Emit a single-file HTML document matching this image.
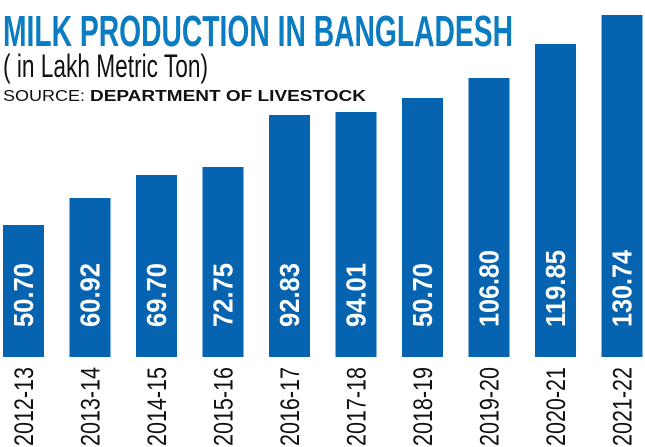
<!DOCTYPE html>
<html><head><meta charset="utf-8"><style>
html,body{margin:0;padding:0;background:#fff;width:645px;height:447px;overflow:hidden}
svg{display:block}
</style></head><body>
<svg width="645" height="447" viewBox="0 0 645 447" xmlns="http://www.w3.org/2000/svg">
<text x="3" y="46" font-family="Liberation Sans, sans-serif" font-weight="bold" font-size="44" fill="#0b7cc1" textLength="510" lengthAdjust="spacingAndGlyphs">MILK PRODUCTION IN BANGLADESH</text>
<text x="3" y="77" font-family="Liberation Sans, sans-serif" font-size="32" fill="#111" textLength="205" lengthAdjust="spacingAndGlyphs">( in Lakh Metric Ton)</text>
<text x="3" y="101" font-family="Liberation Sans, sans-serif" font-size="16" fill="#111" textLength="82" lengthAdjust="spacingAndGlyphs">SOURCE:</text>
<text x="90" y="101" font-family="Liberation Sans, sans-serif" font-weight="bold" font-size="16" fill="#111" textLength="276" lengthAdjust="spacingAndGlyphs">DEPARTMENT OF LIVESTOCK</text>
<g fill="#0563b0">
<rect x="3" y="225" width="41" height="132"/>
<rect x="69.5" y="198" width="41" height="159"/>
<rect x="136" y="175" width="41" height="182"/>
<rect x="202.5" y="167" width="41" height="190"/>
<rect x="269" y="115" width="41" height="242"/>
<rect x="335.5" y="112" width="41" height="245"/>
<rect x="402" y="98" width="41" height="259"/>
<rect x="468.5" y="78" width="41" height="279"/>
<rect x="535" y="44" width="41" height="313"/>
<rect x="601.5" y="15" width="41" height="342"/>
</g>
<g font-family="Liberation Sans, sans-serif" font-weight="bold" font-size="28" fill="#fff">
<text transform="translate(33,327) rotate(-90)" textLength="64" lengthAdjust="spacingAndGlyphs">50.70</text>
<text transform="translate(99.5,327) rotate(-90)" textLength="64" lengthAdjust="spacingAndGlyphs">60.92</text>
<text transform="translate(166,327) rotate(-90)" textLength="64" lengthAdjust="spacingAndGlyphs">69.70</text>
<text transform="translate(232.5,327) rotate(-90)" textLength="64" lengthAdjust="spacingAndGlyphs">72.75</text>
<text transform="translate(299,327) rotate(-90)" textLength="64" lengthAdjust="spacingAndGlyphs">92.83</text>
<text transform="translate(365.5,327) rotate(-90)" textLength="64" lengthAdjust="spacingAndGlyphs">94.01</text>
<text transform="translate(432,327) rotate(-90)" textLength="64" lengthAdjust="spacingAndGlyphs">50.70</text>
<text transform="translate(498.5,327) rotate(-90)" textLength="77" lengthAdjust="spacingAndGlyphs">106.80</text>
<text transform="translate(565,327) rotate(-90)" textLength="77" lengthAdjust="spacingAndGlyphs">119.85</text>
<text transform="translate(631.5,327) rotate(-90)" textLength="77" lengthAdjust="spacingAndGlyphs">130.74</text>
</g>
<g font-family="Liberation Sans, sans-serif" font-size="27" fill="#111">
<text transform="translate(33,446) rotate(-90)" textLength="79" lengthAdjust="spacingAndGlyphs">2012-13</text>
<text transform="translate(99.5,446) rotate(-90)" textLength="79" lengthAdjust="spacingAndGlyphs">2013-14</text>
<text transform="translate(166,446) rotate(-90)" textLength="79" lengthAdjust="spacingAndGlyphs">2014-15</text>
<text transform="translate(232.5,446) rotate(-90)" textLength="79" lengthAdjust="spacingAndGlyphs">2015-16</text>
<text transform="translate(299,446) rotate(-90)" textLength="79" lengthAdjust="spacingAndGlyphs">2016-17</text>
<text transform="translate(365.5,446) rotate(-90)" textLength="79" lengthAdjust="spacingAndGlyphs">2017-18</text>
<text transform="translate(432,446) rotate(-90)" textLength="79" lengthAdjust="spacingAndGlyphs">2018-19</text>
<text transform="translate(498.5,446) rotate(-90)" textLength="79" lengthAdjust="spacingAndGlyphs">2019-20</text>
<text transform="translate(565,446) rotate(-90)" textLength="79" lengthAdjust="spacingAndGlyphs">2020-21</text>
<text transform="translate(631.5,446) rotate(-90)" textLength="79" lengthAdjust="spacingAndGlyphs">2021-22</text>
</g>
</svg>
</body></html>
